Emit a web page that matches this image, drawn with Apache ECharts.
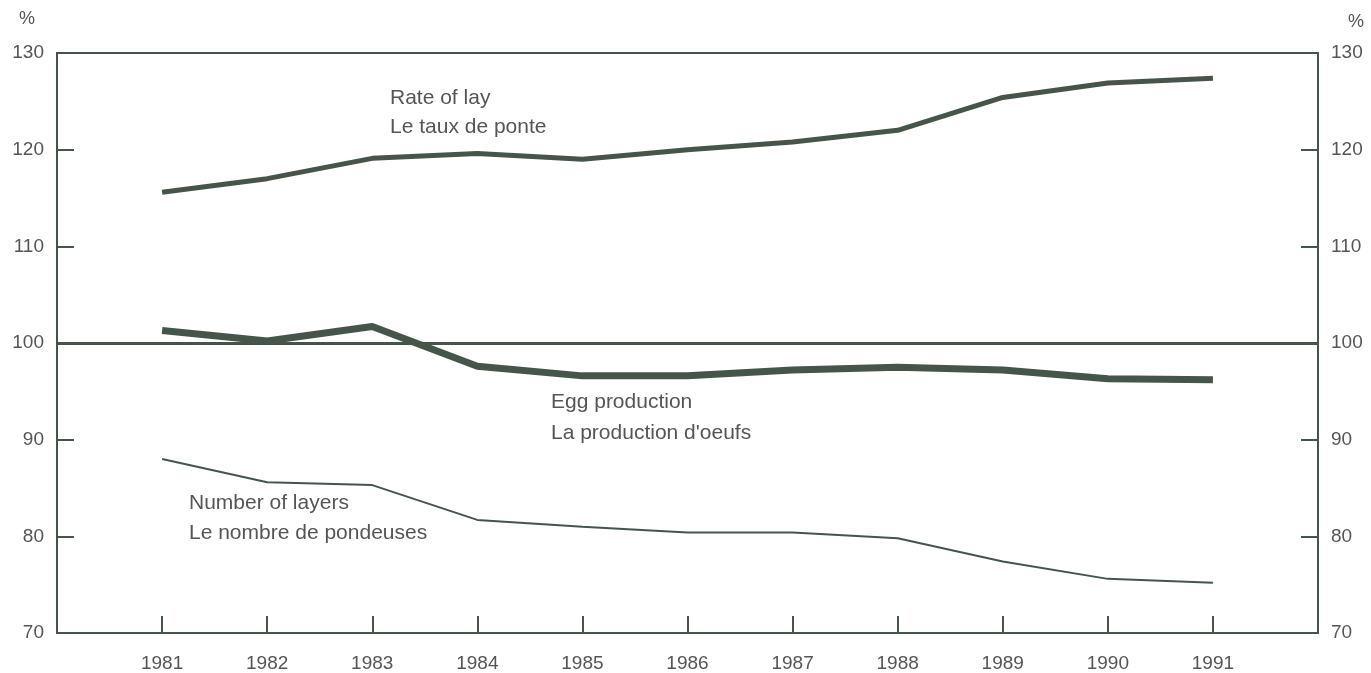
<!DOCTYPE html>
<html>
<head>
<meta charset="utf-8">
<script src="https://cdn.jsdelivr.net/npm/echarts@6/dist/echarts.min.js"></script>
<style>
  html, body { margin: 0; padding: 0; background: #fff; }
  #chart { width: 1371px; height: 673px; }
</style>
</head>
<body>
<div id="chart"></div>
<script>
// years and series values (index 1981 = 100)
const years = [1981, 1982, 1983, 1984, 1985, 1986, 1987, 1988, 1989, 1990, 1991]
const rateOfLay = [115.6, 117.0, 119.1, 119.6, 119.0, 120.0, 120.8, 122.0, 125.4, 126.9, 127.4]
const eggProduction = [101.3, 100.2, 101.7, 97.6, 96.6, 96.6, 97.2, 97.5, 97.2, 96.3, 96.2]
const layers = [88.0, 85.6, 85.3, 81.7, 81.0, 80.4, 80.4, 79.8, 77.4, 75.6, 75.2]
const yTicks = [70, 80, 90, 100, 110, 120, 130]

const ink = '#46554a'
const textColor = '#555'
const font = 'Liberation Sans, Arial, sans-serif'
const noteFont = '21px ' + font

const pairs = arr => years.map((y, i) => [y, arr[i]])

const chart = echarts.init(document.getElementById('chart'))

const yAxisBase = {
  type: 'value',
  min: yTicks[0],
  max: yTicks[yTicks.length - 1],
  interval: 10,
  axisLine: { show: true, lineStyle: { color: ink, width: 2 } },
  axisTick: { show: true, inside: true, length: 17, lineStyle: { color: ink, width: 2 } },
  splitLine: { show: false },
  axisLabel: { color: textColor, fontSize: 19, fontFamily: font, margin: 13 }
}

chart.setOption({
  animation: false,
  grid: { left: 57, right: 53, top: 53, bottom: 40 },
  xAxis: [{
    type: 'value',
    min: 1980,
    max: 1992,
    interval: 1,
    axisLine: { show: true, onZero: false, lineStyle: { color: ink, width: 2 } },
    axisTick: { show: true, inside: true, length: 17, lineStyle: { color: ink, width: 2 } },
    splitLine: { show: false },
    axisLabel: {
      color: textColor, fontSize: 19, fontFamily: font, margin: 21,
      formatter: v => (years.includes(v) ? String(v) : '')
    }
  }, {
    type: 'value',
    position: 'top',
    min: 1980,
    max: 1992,
    axisLine: { show: true, lineStyle: { color: ink, width: 2 } },
    axisTick: { show: false },
    axisLabel: { show: false },
    splitLine: { show: false }
  }],
  yAxis: [
    Object.assign({}, yAxisBase, {
      position: 'left',
      name: '%',
      nameLocation: 'end',
      nameGap: 25,
      nameTextStyle: { color: textColor, fontSize: 18, fontFamily: font, align: 'right', padding: [0, 22, 0, 0] }
    }),
    Object.assign({}, yAxisBase, {
      position: 'right',
      name: '%',
      nameLocation: 'end',
      nameGap: 22,
      nameTextStyle: { color: textColor, fontSize: 18, fontFamily: font, align: 'left', padding: [0, 0, 0, 30] }
    })
  ],
  series: [
    {
      name: 'Rate of lay',
      type: 'line',
      data: pairs(rateOfLay),
      showSymbol: false,
      lineStyle: { color: ink, width: 5 },
      markLine: {
        silent: true,
        symbol: 'none',
        label: { show: false },
        lineStyle: { color: ink, width: 3, type: 'solid' },
        data: [{ yAxis: 100 }]
      }
    },
    {
      name: 'Egg production',
      type: 'line',
      data: pairs(eggProduction),
      showSymbol: false,
      lineStyle: { color: ink, width: 7 }
    },
    {
      name: 'Number of layers',
      type: 'line',
      data: pairs(layers),
      showSymbol: false,
      lineStyle: { color: ink, width: 2 }
    }
  ],
  graphic: [
    { type: 'text', left: 390, top: 88, style: { text: 'Rate of lay', fill: textColor, font: noteFont } },
    { type: 'text', left: 390, top: 117, style: { text: 'Le taux de ponte', fill: textColor, font: noteFont } },
    { type: 'text', left: 551, top: 392, style: { text: 'Egg production', fill: textColor, font: noteFont } },
    { type: 'text', left: 551, top: 423, style: { text: "La production d'oeufs", fill: textColor, font: noteFont } },
    { type: 'text', left: 189, top: 493, style: { text: 'Number of layers', fill: textColor, font: noteFont } },
    { type: 'text', left: 189, top: 523, style: { text: 'Le nombre de pondeuses', fill: textColor, font: noteFont } }
  ]
})
</script>
</body>
</html>
